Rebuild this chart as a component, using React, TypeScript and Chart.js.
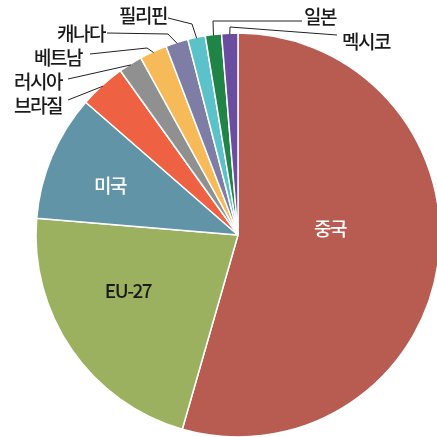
import React, { useEffect, useRef } from "react";
import { Chart, registerables } from "chart.js";

Chart.register(...registerables);

const categories = ["중국", "EU-27", "미국", "브라질", "러시아", "베트남", "캐나다", "필리핀", "일본", "멕시코"];
const shares = [54.5, 21.9, 10.1, 3.7, 1.9, 2.2, 1.8, 1.4, 1.3, 1.3];
const colors = ["#B85B51", "#9BB160", "#6094A6", "#EE6142", "#909090", "#F7BA58", "#7E7DA6", "#5BC2C9", "#1F8446", "#6A4D9E"];

// label layout (annotation positions, not marks)
const inside: Record<number, { x: number; y: number; color: string }> = {
  0: { x: 330, y: 229, color: "#ffffff" },
  1: { x: 128, y: 291, color: "#1a1a1a" },
  2: { x: 110, y: 186, color: "#ffffff" },
};
const outside: Record<number, { pts: [number, number][]; tx: number; ty: number; align: CanvasTextAlign }> = {
  3: { pts: [[68, 100]], tx: 62, ty: 106, align: "right" },
  4: { pts: [[68, 79]], tx: 62, ty: 82, align: "right" },
  5: { pts: [[147, 48], [90, 54]], tx: 82, ty: 58, align: "right" },
  6: { pts: [[168, 34], [107, 33]], tx: 105, ty: 34, align: "right" },
  7: { pts: [[192, 24], [168, 18]], tx: 167, ty: 16, align: "right" },
  8: { pts: [[213, 21], [302, 21]], tx: 304, ty: 17, align: "left" },
  9: { pts: [[230, 27], [337, 35]], tx: 342, ty: 42, align: "left" },
};

const FONT = '500 19px "Noto Sans CJK KR", "Noto Sans", sans-serif';

const labelPlugin = {
  id: "labels",
  afterDatasetsDraw(chart: any) {
    const ctx = chart.ctx as CanvasRenderingContext2D;
    const meta = chart.getDatasetMeta(0);
    ctx.save();
    ctx.font = FONT;
    try { (ctx as any).letterSpacing = "-1.5px"; } catch (e) {}
    ctx.textBaseline = "middle";
    meta.data.forEach((arc: any, i: number) => {
      const p = arc.getProps(["x", "y", "startAngle", "endAngle", "outerRadius"], true);
      if (inside[i]) {
        const l = inside[i];
        ctx.fillStyle = l.color;
        ctx.textAlign = "center";
        ctx.fillText(categories[i], l.x, l.y);
      } else if (outside[i]) {
        const l = outside[i];
        const mid = (p.startAngle + p.endAngle) / 2;
        const ax = p.x + Math.cos(mid) * (p.outerRadius - 1);
        const ay = p.y + Math.sin(mid) * (p.outerRadius - 1);
        ctx.strokeStyle = "#222222";
        ctx.lineWidth = 1;
        ctx.beginPath();
        ctx.moveTo(ax, ay);
        l.pts.forEach(([x, y]) => ctx.lineTo(x, y));
        ctx.stroke();
        ctx.fillStyle = "#1a1a1a";
        ctx.textAlign = l.align;
        ctx.fillText(categories[i], l.tx, l.ty);
      }
    });
    ctx.restore();
  },
};

export default function App() {
  const ref = useRef<HTMLCanvasElement | null>(null);
  useEffect(() => {
    if (!ref.current) return;
    const chart = new Chart(ref.current, {
      type: "pie",
      data: {
        labels: categories,
        datasets: [
          {
            data: shares,
            backgroundColor: colors,
            borderColor: "#ffffff",
            borderWidth: 1.5,
          },
        ],
      },
      options: {
        animation: false,
        responsive: false,
        radius: 202,
        layout: { padding: { left: 39, right: 0, top: 33, bottom: 0 } },
        plugins: { legend: { display: false }, tooltip: { enabled: false } },
      },
      plugins: [labelPlugin],
    });
    return () => chart.destroy();
  }, []);
  return (
    <div style={{ position: "fixed", left: 0, top: 0, width: 437, height: 437, background: "#fff" }}>
      <canvas ref={ref} width={437} height={437} style={{ width: 437, height: 437 }} />
    </div>
  );
}
